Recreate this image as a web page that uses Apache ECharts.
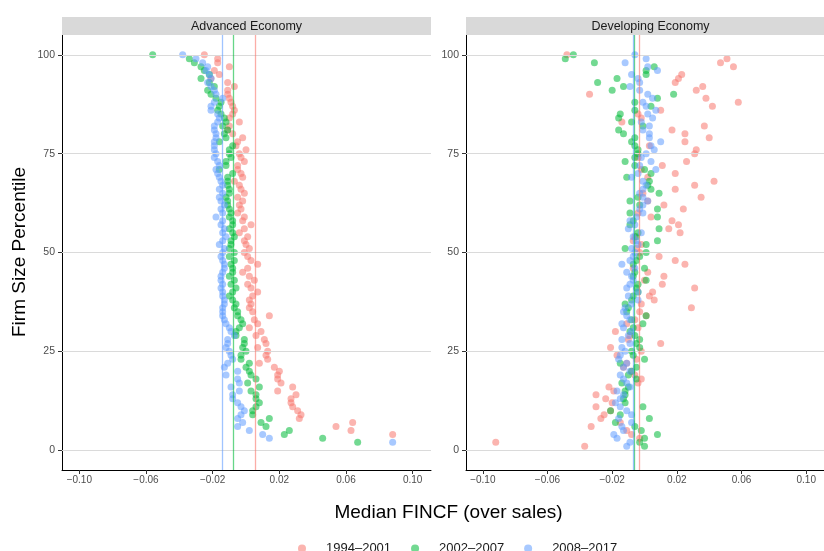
<!DOCTYPE html>
<html><head><meta charset="utf-8">
<script src="https://cdn.jsdelivr.net/npm/echarts@6/dist/echarts.min.js"></script>
<style>html,body{margin:0;padding:0;background:#fff}#c{width:824px;height:551px}</style>
</head><body><div id="c"></div>
<script>
// Firm size percentiles (y values)
const percentiles = [1,2,3,4,5,6,7,8,9,10,11,12,13,14,15,16,17,18,19,20,21,22,23,24,25,26,27,28,29,30,31,32,33,34,35,36,37,38,39,40,41,42,43,44,45,46,47,48,49,50,51,52,53,54,55,56,57,58,59,60,61,62,63,64,65,66,67,68,69,70,71,72,73,74,75,76,77,78,79,80,81,82,83,84,85,86,87,88,89,90,91,92,93,94,95,96,97,98,99,100];
const periods = ['1994\u20132001', '2002\u20132007', '2008\u20132017'];
const panels = ['Advanced Economy', 'Developing Economy'];

// Median FINCF (over sales), index i -> percentile i+1
const advRed = [null,null,null,0.088,0.063,0.054,0.064,0.032,0.033,0.031,
 0.028,0.027,0.027,0.030,0.019,0.028,0.021,0.019,0.019,0.020,
 0.017,0.008,0.013,0.012,0.013,0.007,0.012,0.011,0.006,0.009,
 0.002,0.007,0.005,0.014,0.004,0.002,0.003,0.002,0.004,0.007,
 0.003,0.001,0.005,0.002,-0.002,0.001,0.007,0.003,0.001,-0.001,
 0.002,0.000,-0.001,0.001,-0.004,-0.001,0.003,-0.002,-0.001,-0.005,
 -0.003,-0.004,-0.002,-0.005,-0.001,-0.003,-0.004,-0.007,-0.002,-0.003,
 -0.005,-0.005,-0.001,-0.003,-0.004,0.000,-0.006,-0.005,-0.002,-0.008,
 -0.011,-0.010,-0.004,-0.010,-0.008,-0.007,-0.008,-0.009,-0.010,-0.011,
 -0.011,-0.007,-0.011,-0.021,-0.016,-0.019,-0.010,-0.017,-0.017,-0.025];
const advGreen = [null,0.067,0.046,0.023,0.026,0.012,0.009,0.014,0.004,0.004,
 0.006,0.008,0.006,0.006,0.003,0.008,0.001,0.006,0.003,0.002,
 0.000,0.002,-0.003,-0.003,0.000,-0.002,-0.001,-0.001,-0.006,-0.006,
 -0.004,-0.002,-0.003,-0.005,-0.005,-0.007,-0.006,-0.008,-0.010,-0.008,
 -0.006,-0.009,-0.007,-0.010,-0.008,-0.008,-0.009,-0.007,-0.010,-0.007,
 -0.010,-0.009,-0.009,-0.007,-0.008,-0.010,-0.008,-0.008,-0.010,-0.009,
 -0.010,-0.011,-0.011,-0.012,-0.010,-0.010,-0.011,-0.011,-0.011,-0.008,
 -0.016,-0.012,-0.012,-0.009,-0.010,-0.010,-0.008,-0.016,-0.012,-0.013,
 -0.011,-0.014,-0.012,-0.013,-0.015,-0.017,-0.016,-0.015,-0.018,-0.021,
 -0.023,-0.019,-0.022,-0.027,-0.022,-0.025,-0.027,-0.031,-0.034,-0.056];
const advBlue = [null,0.088,0.014,0.010,0.002,-0.005,-0.002,-0.005,-0.003,-0.001,
 -0.003,-0.005,-0.008,-0.008,-0.004,-0.009,-0.004,-0.005,-0.012,-0.005,
 -0.013,-0.011,-0.008,-0.009,-0.010,-0.012,-0.011,-0.011,-0.007,-0.009,
 -0.010,-0.012,-0.013,-0.014,-0.014,-0.014,-0.013,-0.013,-0.014,-0.014,
 -0.015,-0.014,-0.015,-0.015,-0.014,-0.013,-0.013,-0.014,-0.015,-0.014,
 -0.013,-0.016,-0.014,-0.012,-0.014,-0.013,-0.015,-0.014,-0.018,-0.014,
 -0.015,-0.013,-0.015,-0.016,-0.014,-0.016,-0.014,-0.015,-0.016,-0.017,
 -0.018,-0.016,-0.017,-0.019,-0.018,-0.019,-0.019,-0.019,-0.018,-0.018,
 -0.019,-0.019,-0.017,-0.016,-0.017,-0.021,-0.021,-0.019,-0.014,-0.018,
 -0.019,-0.021,-0.023,-0.021,-0.022,-0.024,-0.023,-0.026,-0.030,-0.038];
const devRed = [-0.037,-0.092,-0.003,-0.008,-0.011,-0.033,-0.015,-0.027,-0.025,-0.021,
 -0.030,-0.020,-0.024,-0.030,-0.019,-0.022,-0.004,-0.002,-0.006,-0.008,
 -0.013,-0.011,-0.005,-0.017,-0.002,-0.021,0.010,-0.010,-0.009,-0.018,
 -0.004,-0.011,-0.006,0.001,-0.003,0.029,-0.002,0.006,0.003,0.005,
 0.031,0.011,0.000,0.012,0.002,-0.007,0.025,0.019,0.009,-0.003,
 -0.005,-0.002,-0.007,-0.006,0.022,0.015,0.021,0.017,0.004,-0.004,
 0.024,0.012,0.002,0.035,-0.001,0.019,0.031,0.043,0.002,0.019,
 -0.002,0.011,0.026,-0.004,0.031,0.032,0.003,0.025,0.040,0.025,
 0.017,0.037,-0.014,-0.002,-0.004,0.010,0.042,0.058,0.038,-0.034,
 0.032,0.036,0.019,0.021,0.023,null,0.055,0.047,0.051,-0.048];
const devGreen = [0.000,-0.003,0.000,0.008,-0.002,-0.006,-0.018,0.003,-0.015,-0.021,
 -0.001,-0.012,-0.013,-0.012,-0.012,-0.010,-0.014,-0.005,-0.010,-0.008,
 -0.005,-0.015,0.000,-0.007,-0.008,-0.003,-0.005,-0.003,-0.006,-0.009,
 -0.007,-0.001,-0.008,0.001,-0.011,-0.010,-0.012,-0.008,-0.007,-0.004,
 -0.005,-0.004,0.001,-0.007,-0.006,0.000,-0.007,-0.005,-0.003,0.001,
 -0.012,0.001,0.008,-0.005,-0.004,0.009,-0.009,-0.007,0.008,-0.009,
 0.008,-0.003,-0.009,-0.004,0.009,0.004,0.002,0.003,-0.011,0.004,
 0.000,-0.006,-0.012,-0.006,-0.004,-0.004,-0.006,-0.008,-0.006,-0.013,
 -0.016,-0.001,-0.008,-0.016,-0.015,-0.006,0.004,-0.006,0.008,0.018,
 -0.020,-0.013,-0.029,-0.017,0.001,0.001,0.006,-0.031,-0.049,-0.044];
const devBlue = [-0.011,-0.009,-0.017,-0.019,-0.013,-0.014,-0.008,-0.016,-0.008,-0.011,
 -0.015,-0.018,-0.015,-0.013,-0.017,-0.009,-0.011,-0.013,-0.015,-0.009,
 -0.013,-0.011,-0.016,-0.015,-0.012,-0.014,-0.009,-0.014,-0.010,-0.008,
 -0.013,-0.014,-0.009,-0.011,-0.013,-0.012,-0.008,-0.004,-0.010,-0.004,
 -0.011,-0.009,-0.007,-0.008,-0.011,-0.006,-0.014,-0.009,-0.007,-0.006,
 -0.008,-0.004,-0.005,-0.007,-0.002,-0.010,-0.006,-0.009,-0.005,-0.001,
 -0.003,-0.001,0.002,-0.001,-0.003,-0.001,0.001,-0.001,-0.008,-0.004,
 0.007,-0.003,0.004,-0.002,0.001,0.006,0.004,0.010,0.003,0.003,
 -0.001,0.003,-0.002,0.005,0.002,0.007,0.001,-0.001,0.005,0.002,
 -0.003,-0.009,-0.003,-0.004,-0.008,0.008,0.002,-0.012,0.001,-0.006];

// Pooled medians (vertical lines), order: periods
const advMedians = [0.0058, -0.0078, -0.014];
const devMedians = [-0.0034, -0.0062, -0.0068];

const xTicks = [-0.10, -0.06, -0.02, 0.02, 0.06, 0.10];
const yTicks = [0, 25, 50, 75, 100];

const colors = ['#F8766D', '#00BA38', '#619CFF'];
const FONT = "'Liberation Sans', Arial, Helvetica, sans-serif";
const panelData = [[advRed, advGreen, advBlue], [devRed, devGreen, devBlue]];
const panelMedians = [advMedians, devMedians];
const gridLeft = [62, 466];
const gridW = 369;

const chart = echarts.init(document.getElementById('c'), null, {renderer: 'canvas'});

const grids = gridLeft.map(l => ({left: l, top: 35, width: gridW, height: 435}));
const xAxes = gridLeft.map((l, gi) => ({
  type: 'value', gridIndex: gi, min: -0.1104, max: 0.1110,
  axisLine: {show: true, onZero: false, lineStyle: {color: '#000', width: 1}},
  axisTick: {show: true, length: 4, customValues: xTicks, lineStyle: {color: '#333'}},
  axisLabel: {show: true, customValues: xTicks, margin: 5, color: '#4D4D4D', fontSize: 10, fontFamily: FONT,
    formatter: v => v.toFixed(2).replace('-', '\u2212')},
  splitLine: {show: false}
}));
const yAxes = gridLeft.map((l, gi) => ({
  type: 'value', gridIndex: gi, min: -5, max: 105,
  axisLine: {show: true, onZero: false, lineStyle: {color: '#000', width: 1}},
  axisTick: {show: true, length: 4, customValues: yTicks, lineStyle: {color: '#333'}},
  axisLabel: {show: true, customValues: yTicks, margin: 7, color: '#4D4D4D', fontSize: 10.5, fontFamily: FONT},
  splitLine: {show: false}
}));

const series = [];
[0, 1].forEach(gi => {
  series.push({
    type: 'scatter', xAxisIndex: gi, yAxisIndex: gi, data: [], z: 0, silent: true,
    markLine: {silent: true, symbol: ['none', 'none'], animation: false, precision: 6, label: {show: false},
      lineStyle: {color: '#DADADA', width: 1, type: 'solid'},
      data: yTicks.map(v => ({yAxis: v}))}
  });
  periods.forEach((name, si) => {
    const vals = panelData[gi][si];
    const data = [];
    percentiles.forEach((p, i) => { if (vals[i] !== null) data.push([vals[i], p]); });
    series.push({
      name: name, type: 'scatter', xAxisIndex: gi, yAxisIndex: gi, data: data,
      symbolSize: 7, z: 2,
      itemStyle: {color: colors[si], opacity: 0.55},
      emphasis: {disabled: true},
      markLine: {silent: true, symbol: ['none', 'none'], animation: false, precision: 6, label: {show: false},
        lineStyle: {color: colors[si], width: 1.3, type: 'solid', opacity: 0.6},
        data: [{xAxis: panelMedians[gi][si]}]}
    });
  });
});

const graphics = [];
panels.forEach((t, gi) => {
  graphics.push({type: 'rect', shape: {x: gridLeft[gi], y: 17, width: gridW, height: 18}, style: {fill: '#D9D9D9'}, z: 10});
  graphics.push({type: 'text', x: gridLeft[gi] + gridW / 2, y: 26.5, z: 11,
    style: {text: t, align: 'center', verticalAlign: 'middle', fontSize: 12.5, fontFamily: FONT, fill: '#1A1A1A'}});
});
graphics.push({type: 'text', x: 448.5, y: 513, z: 11,
  style: {text: 'Median FINCF (over sales)', align: 'center', verticalAlign: 'middle', fontSize: 19, fontFamily: FONT, fill: '#000'}});
graphics.push({type: 'text', x: 20, y: 252, rotation: Math.PI / 2, z: 11,
  style: {text: 'Firm Size Percentile', align: 'center', verticalAlign: 'middle', fontSize: 19, fontFamily: FONT, fill: '#000'}});

chart.setOption({
  animation: false,
  backgroundColor: '#fff',
  grid: grids, xAxis: xAxes, yAxis: yAxes, series: series,
  legend: {data: periods, icon: 'circle', itemWidth: 38, itemHeight: 8, itemGap: 20,
    left: 293, top: 537, selectedMode: false,
    textStyle: {fontSize: 13, color: '#1A1A1A', fontFamily: FONT}},
  graphic: graphics,
  tooltip: {show: false}
});
</script></body></html>
